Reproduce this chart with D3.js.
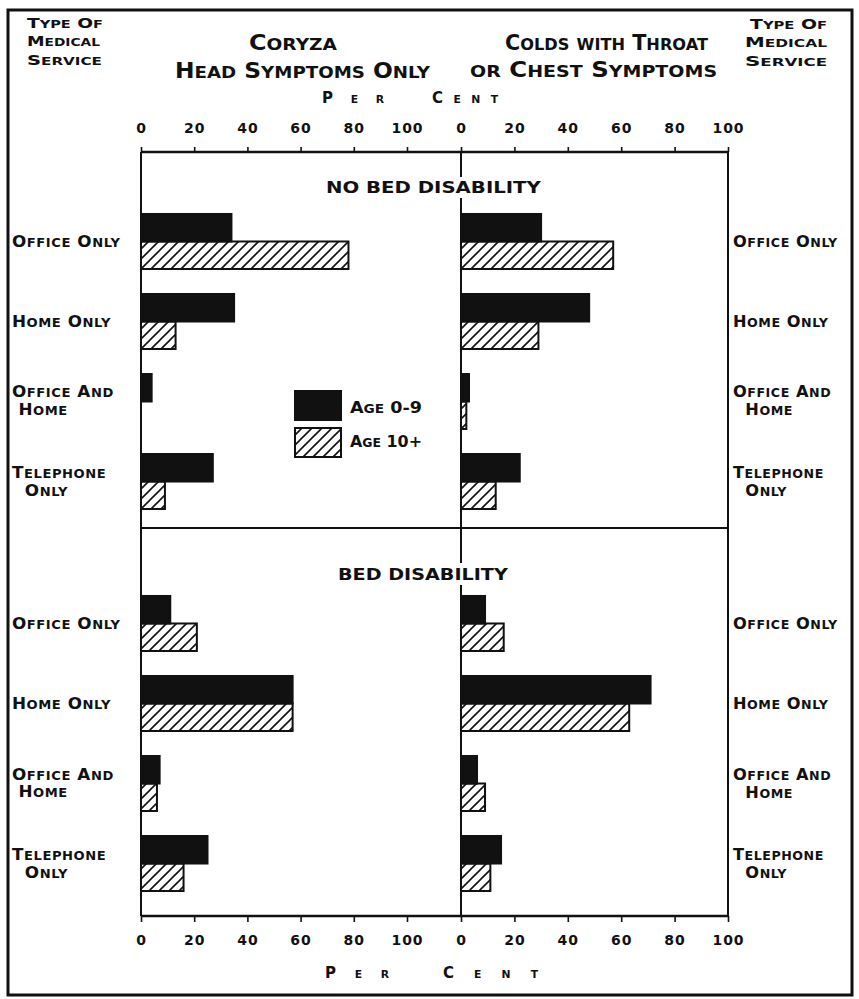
<!DOCTYPE html>
<meta charset="utf-8">
<script src="https://d3js.org/d3.v7.min.js"></script>
<style>
  body { margin: 0; background: #fff; }
  text { font-family: "DejaVu Sans", sans-serif; font-weight: bold; fill: #111; }
</style>

<svg id="chart" width="859" height="999"></svg>

<script>
// categories (type of medical service) and the two age groups
const categories = ["Office Only", "Home Only", "Office and Home", "Telephone Only"];
const leftLabels = [["Office Only"], ["Home Only"], ["Office And", " Home"], ["Telephone", "  Only"]];
const rightLabels = [["Office Only"], ["Home Only"], ["Office And", "  Home"], ["Telephone", "  Only"]];
const series = ["Age 0-9", "Age 10+"];
const sections = ["No Bed Disability", "Bed Disability"];
const ticks = [0, 20, 40, 60, 80, 100];

// per cent values
const coryzaNoBedAge0 = [34, 35, 4, 27];
const coryzaNoBedAge10 = [78, 13, 0, 9];
const coryzaBedAge0 = [11, 57, 7, 25];
const coryzaBedAge10 = [21, 57, 6, 16];
const throatNoBedAge0 = [30, 48, 3, 22];
const throatNoBedAge10 = [57, 29, 2, 13];
const throatBedAge0 = [9, 71, 6, 15];
const throatBedAge10 = [16, 63, 9, 11];

const svg = d3.select("#chart");
const ink = "#111";

// box
const boxTop = 152, boxMid = 528, boxBottom = 916, boxLeft = 141, boxCenter = 461, boxRight = 728;

const xLeft = d3.scaleLinear().domain([0, 100]).range([boxLeft, 407]);
const xRight = d3.scaleLinear().domain([0, 100]).range([boxCenter, boxRight]);

// one band scale per section
const yTop = d3.scaleBand().domain(categories).range([201.5, 521.5]).paddingInner(0.3125).paddingOuter(0.156);
const yBot = d3.scaleBand().domain(categories).range([583.5, 903.5]).paddingInner(0.3125).paddingOuter(0.156);
const ySub = d3.scaleBand().domain(series).range([0, yTop.bandwidth()]);

// hatch pattern
const defs = svg.append("defs");
defs.append("pattern")
    .attr("id", "hatch")
    .attr("patternUnits", "userSpaceOnUse")
    .attr("width", 10).attr("height", 10)
  .append("path")
    .attr("d", "M-2,2 l4,-4 M0,10 l10,-10 M8,12 l4,-4")
    .attr("stroke", ink)
    .attr("stroke-width", 1.6);

// outer frame
svg.append("rect")
    .attr("x", 8).attr("y", 10).attr("width", 844).attr("height", 985)
    .attr("fill", "none").attr("stroke", ink).attr("stroke-width", 3);

// hand-lettered look: capitals full size, lower case as smaller capitals
// opt.fit stretches the glyphs to a width, opt.width spreads the letters,
// opt.sx stretches by a factor
function caps(x, y, str, size, opt) {
  opt = opt || {};
  const t = svg.append("text").attr("x", x).attr("y", y)
    .attr("font-size", size)
    .attr("xml:space", "preserve");
  const runs = [];
  for (const ch of str) {
    const small = ch !== ch.toUpperCase();
    const last = runs[runs.length - 1];
    if (last && last.small === small) last.s += ch;
    else runs.push({ small, s: ch });
  }
  runs.forEach(r => {
    t.append("tspan")
      .attr("font-size", r.small ? size * (opt.ratio || 0.78) : size)
      .text(r.s.toUpperCase());
  });
  if (opt.sp) t.attr("letter-spacing", opt.sp);
  const natural = t.node().getComputedTextLength();
  let s = opt.sx || 1;
  if (opt.width) {
    const n = [...str].length;
    t.attr("letter-spacing", (opt.width - natural) / (n - 1));
  } else if (opt.fit) {
    s = opt.fit / natural;
  }
  if (s !== 1) t.attr("transform", `translate(${x},0) scale(${s},1) translate(${-x},0)`);
  return t;
}

// headings
caps(27, 28, "Type Of", 14, { fit: 76 });
caps(27, 46, "Medical", 14, { fit: 73 });
caps(27, 65, "Service", 14, { fit: 75 });
caps(750, 29, "Type Of", 14, { fit: 77 });
caps(745, 47, "Medical", 14, { fit: 82 });
caps(745, 66, "Service", 14, { fit: 82 });
caps(249, 50, "Coryza", 21, { fit: 88 });
caps(175, 78, "Head Symptoms Only", 21, { fit: 255 });
caps(505, 50, "Colds with Throat", 21, { fit: 203 });
caps(470, 77, "or Chest Symptoms", 21, { fit: 247 });

// "PER CENT"
caps(322, 103, "Per", 15, { width: 62, ratio: 0.72 });
caps(432, 103, "Cent", 15, { width: 66, ratio: 0.72 });
caps(325, 978, "Per", 15, { width: 64, ratio: 0.72 });
caps(443, 978, "Cent", 15, { width: 95, ratio: 0.72 });

// panels
const panels = [
  { x: xLeft, data: [[coryzaNoBedAge0, coryzaNoBedAge10], [coryzaBedAge0, coryzaBedAge10]] },
  { x: xRight, data: [[throatNoBedAge0, throatNoBedAge10], [throatBedAge0, throatBedAge10]] }
];
const yScales = [yTop, yBot];

panels.forEach(p => {
  p.data.forEach((sec, s) => {
    const y = yScales[s];
    sec.forEach((vals, k) => {
      svg.append("g").selectAll("rect")
        .data(vals.map((v, i) => ({ cat: categories[i], v })).filter(d => d.v > 0))
        .join("rect")
          .attr("x", p.x(0))
          .attr("y", d => y(d.cat) + ySub(series[k]))
          .attr("width", d => p.x(d.v) - p.x(0))
          .attr("height", ySub.bandwidth())
          .attr("fill", k === 0 ? ink : "url(#hatch)")
          .attr("stroke", ink)
          .attr("stroke-width", 2);
    });
  });
});

// box lines
const box = svg.append("g").attr("stroke", ink).attr("fill", "none");
function seg(x1, y1, x2, y2, w) {
  box.append("line").attr("x1", x1).attr("y1", y1).attr("x2", x2).attr("y2", y2).attr("stroke-width", w);
}
seg(boxLeft, boxTop, boxRight, boxTop, 2.5);
seg(boxLeft, boxBottom, boxRight, boxBottom, 2.5);
seg(boxLeft, boxMid, boxRight, boxMid, 2);
seg(boxLeft, boxTop, boxLeft, boxBottom, 2);
seg(boxRight, boxTop, boxRight, boxBottom, 2);
// middle zero line, broken where the section titles sit
seg(boxCenter, boxTop, boxCenter, 177, 2);
seg(boxCenter, 198, boxCenter, boxMid, 2);
seg(boxCenter, boxMid, boxCenter, 563, 2);
seg(boxCenter, 585, boxCenter, boxBottom, 2);

// section titles
caps(326, 193, sections[0].toUpperCase(), 15, { fit: 215 });
caps(338, 580, sections[1].toUpperCase(), 15, { fit: 170 });

// axes
function styleAxis(g) {
  g.select(".domain").remove();
  g.selectAll(".tick line").attr("stroke", ink).attr("stroke-width", 1.6);
  g.selectAll(".tick text").attr("font-size", 14).attr("fill", ink)
    .attr("letter-spacing", 1)
    .style("font-family", "DejaVu Sans").style("font-weight", "bold");
}
[xLeft, xRight].forEach(x => {
  svg.append("g").attr("transform", `translate(0,${boxTop})`)
    .call(d3.axisTop(x).tickValues(ticks).tickSize(5).tickPadding(14).tickFormat(d3.format("d")))
    .call(styleAxis);
  svg.append("g").attr("transform", `translate(0,${boxBottom})`)
    .call(d3.axisBottom(x).tickValues(ticks).tickSize(6).tickPadding(13).tickFormat(d3.format("d")))
    .call(styleAxis);
});

// row labels
function rowLabels(y, x, labels, sx) {
  categories.forEach((c, i) => {
    const cy = y(c) + y.bandwidth() / 2;
    const ls = labels[i];
    const ys = ls.length === 1 ? [cy + 6] : [cy - 4, cy + 14];
    ls.forEach((l, j) => caps(x, ys[j], l, 15, { sp: 0.5, sx: sx }));
  });
}
yScales.forEach(y => {
  rowLabels(y, 12, leftLabels, 1.12);
  rowLabels(y, 733, rightLabels, 1.08);
});

// legend
const legend = svg.append("g");
series.forEach((s, k) => {
  legend.append("rect")
    .attr("x", 295).attr("y", 391 + k * 37).attr("width", 46).attr("height", 29)
    .attr("fill", k === 0 ? ink : "url(#hatch)")
    .attr("stroke", ink).attr("stroke-width", 2);
  caps(350, 413 + k * 34, s, 15, { fit: 72 });
});
</script>
